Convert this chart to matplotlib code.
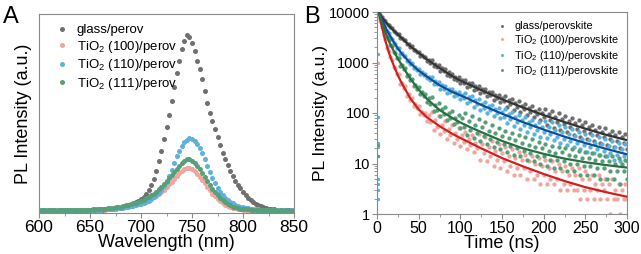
"""
PL spectra (A) and TRPL decays (B) for perovskite on glass / TiO2 facets
"""

import numpy as np
import matplotlib
matplotlib.use('Agg')
import matplotlib.pyplot as plt
from matplotlib.ticker import MultipleLocator, FixedLocator, FixedFormatter, LogLocator, NullFormatter

plt.rcParams['font.family'] = ['Liberation Sans', 'DejaVu Sans']
plt.rcParams['mathtext.fontset'] = 'custom'
plt.rcParams['mathtext.rm'] = 'Liberation Sans'
plt.rcParams['mathtext.it'] = 'Liberation Sans:italic'

# ---------------- Panel A: steady-state PL (normalised a.u.) ----------------
wavelength = np.arange(600, 850.1, 2.5)

pl_glass = [
    .014, .012, .015, .013, .014, .016, .013, .015, .014, .016,
    .013, .015, .016, .014, .015, .017, .014, .016, .015, .017,
    .016, .015, .018, .016, .018, .017, .019, .018, .021, .020,
    .023, .025, .026, .030, .033, .037, .042, .047, .053, .060,
    .068, .080, .095, .115, .14, .17, .21, .26, .31, .37,
    .43, .49, .56, .63, .70, .76, .82, .86, .89, .88,
    .85, .81, .76, .72, .67, .61, .55, .50, .46, .42,
    .38, .34, .30, .27, .24, .21, .185, .16, .14, .125,
    .105, .09, .075, .065, .055, .047, .040, .034, .029, .025,
    .022, .020, .018, .017, .016, .015, .015, .014, .014, .013,
    .013]
pl_100 = [
    .011, .013, .012, .014, .012, .013, .011, .014, .013, .012,
    .013, .012, .014, .013, .012, .014, .013, .015, .014, .013,
    .015, .014, .016, .015, .017, .018, .017, .019, .020, .022,
    .023, .025, .027, .029, .031, .034, .037, .040, .043, .047,
    .051, .055, .060, .066, .072, .079, .087, .096, .106, .117,
    .13, .143, .157, .171, .185, .198, .21, .218, .224, .225,
    .218, .208, .195, .18, .165, .148, .13, .113, .097, .083,
    .07, .059, .05, .042, .035, .03, .026, .023, .02, .018,
    .017, .016, .015, .014, .014, .013, .013, .012, .013, .012,
    .012, .011, .012, .013, .011, .012, .011, .012, .011, .012,
    .011]
pl_110 = [
    .013, .014, .012, .015, .014, .013, .015, .014, .016, .014,
    .015, .013, .016, .015, .014, .016, .015, .017, .016, .015,
    .017, .016, .018, .017, .016, .019, .018, .020, .019, .021,
    .022, .024, .025, .027, .029, .031, .034, .037, .040, .043,
    .046, .050, .055, .062, .070, .080, .090, .102, .115, .133,
    .155, .183, .215, .25, .285, .31, .335, .355, .365, .375,
    .370, .36, .345, .325, .30, .27, .235, .205, .175, .15,
    .125, .105, .09, .077, .065, .056, .048, .042, .036, .032,
    .028, .025, .023, .021, .020, .019, .018, .017, .016, .016,
    .015, .016, .014, .015, .013, .014, .013, .014, .012, .013,
    .013]
pl_111 = [
    .012, .014, .013, .012, .015, .013, .014, .012, .013, .015,
    .014, .013, .015, .014, .016, .014, .015, .017, .016, .015,
    .016, .018, .017, .019, .018, .020, .022, .023, .025, .026,
    .028, .030, .032, .035, .038, .041, .045, .048, .052, .057,
    .062, .067, .073, .080, .088, .097, .107, .118, .13, .145,
    .16, .175, .19, .205, .22, .235, .25, .26, .268, .27,
    .262, .25, .235, .218, .20, .18, .16, .14, .12, .103,
    .088, .075, .063, .053, .045, .038, .032, .028, .025, .022,
    .020, .019, .018, .017, .016, .016, .015, .015, .014, .015,
    .014, .013, .014, .013, .012, .013, .012, .013, .012, .012,
    .012]

labels_a = ['glass/perov', 'TiO$_2$ (100)/perov', 'TiO$_2$ (110)/perov', 'TiO$_2$ (111)/perov']
labels_b = ['glass/perovskite', 'TiO$_2$ (100)/perovskite', 'TiO$_2$ (110)/perovskite',
            'TiO$_2$ (111)/perovskite']

# ---------------- Panel B: TRPL decays ----------------
time = np.arange(2, 301, 2)

trpl_glass = [
    10000, 8600, 8000, 7000, 6620, 5700, 5460, 4940, 4810, 4150,
    4080, 3680, 3710, 3050, 3060, 2740, 2760, 2280, 2320, 2060,
    2100, 1760, 1800, 1620, 1640, 1370, 1410, 1270, 1290, 1080,
    1140, 1000, 1100, 840, 935, 820, 900, 685, 765, 670,
    745, 570, 635, 550, 600, 465, 520, 460, 510, 390,
    445, 390, 460, 320, 390, 340, 400, 280, 335, 295,
    350, 245, 295, 255, 305, 215, 260, 225, 265, 185,
    226, 198, 232, 163, 196, 170, 216, 132, 178, 150,
    192, 116, 156, 132, 170, 103, 139, 118, 151, 92,
    124, 105, 135, 82, 111, 94, 121, 74, 100, 85,
    120, 57, 94, 74, 109, 51, 84, 67, 99, 46,
    77, 60, 88, 42, 69, 53, 80, 37, 62, 48,
    72, 34, 57, 44, 66, 31, 52, 40, 59, 28,
    47, 36, 54, 25, 43, 33, 50, 23, 39, 31,
    45, 21, 36, 28, 42, 20, 33, 26, 39, 19]
trpl_100 = [
    9500, 6580, 5000, 3480, 2860, 1970, 1680, 1270, 1130, 830,
    780, 590, 600, 380, 400, 315, 335, 215, 233, 185,
    200, 135, 150, 124, 136, 94, 107, 90, 101, 70,
    90, 67, 105, 46, 72, 54, 86, 38, 59, 44,
    70, 31, 49, 37, 58, 26, 41, 31, 50, 22,
    36, 27, 43, 19, 30, 23, 37, 17, 26, 20,
    38, 12, 24, 16, 33, 11, 21, 14, 28, 9,
    18, 12, 24, 8, 16, 11, 21, 7, 14, 9,
    19, 6, 13, 8, 17, 6, 12, 8, 15, 5,
    11, 7, 14, 5, 10, 6, 13, 4, 9, 6,
    12, 4, 8, 5, 11, 4, 7, 5, 10, 3,
    7, 4, 9, 3, 6, 4, 8, 3, 6, 3,
    8, 2, 5, 3, 7, 2, 5, 3, 6, 2,
    4, 3, 6, 2, 4, 3, 5, 2, 4, 1,
    5, 2, 3, 2, 4, 1, 3, 2, 4, 2]
trpl_110 = [
    9880, 8160, 7290, 5920, 5200, 4180, 3850, 3210, 2980, 2450,
    2340, 1960, 1940, 1500, 1520, 1330, 1370, 1080, 1100, 945,
    970, 775, 810, 715, 745, 600, 640, 570, 600, 485,
    525, 450, 515, 370, 430, 370, 420, 305, 355, 305,
    350, 253, 297, 258, 300, 220, 260, 227, 263, 193,
    232, 195, 250, 155, 203, 171, 217, 134, 178, 149,
    190, 116, 153, 128, 163, 101, 135, 113, 144, 89,
    118, 100, 126, 78, 104, 85, 118, 62, 94, 75,
    104, 55, 83, 66, 92, 48, 74, 59, 82, 43,
    65, 52, 73, 38, 58, 46, 65, 34, 53, 42,
    71, 32, 52, 38, 65, 29, 47, 34, 59, 26,
    42, 31, 53, 23, 38, 28, 48, 21, 35, 25,
    43, 19, 31, 23, 39, 17, 29, 21, 36, 16,
    26, 19, 33, 15, 24, 18, 31, 14, 22, 16,
    28, 12, 21, 15, 26, 11, 19, 14, 24, 11]
trpl_111 = [
    9750, 7500, 6300, 4900, 4200, 3140, 2800, 2260, 2080, 1620,
    1540, 1240, 1250, 870, 905, 750, 770, 535, 560, 460,
    480, 340, 365, 305, 325, 235, 258, 219, 233, 167,
    194, 152, 207, 112, 147, 117, 161, 88, 118, 95,
    132, 73, 99, 79, 108, 60, 81, 66, 92, 51,
    79, 53, 99, 36, 68, 46, 87, 32, 59, 40,
    76, 28, 52, 35, 66, 24, 45, 31, 58, 21,
    40, 27, 51, 19, 35, 24, 45, 17, 32, 22,
    41, 15, 29, 20, 37, 14, 26, 18, 33, 12,
    23, 16, 30, 11, 21, 14, 27, 10, 20, 14,
    24, 9, 18, 12, 22, 8, 16, 12, 21, 8,
    17, 11, 20, 7, 15, 10, 19, 7, 14, 10,
    18, 6, 13, 9, 17, 6, 13, 9, 16, 6,
    12, 8, 15, 5, 11, 8, 14, 5, 11, 7,
    14, 5, 10, 7, 13, 4, 10, 7, 12, 5]

# instrument rise (first ns) seen at the left edge
rise_t_110 = [1.0, 1.4, 1.2, 1.6, 1.1, 1.5, 1.3, 1.2, 1.5]
rise_110 = [1500, 85, 26, 21, 14, 5, 4, 3, 2]
rise_t_100 = [1.3]
rise_100 = [1000]
rise_t_111 = [1.4, 1.2]
rise_111 = [23, 14]

# multi-exponential fits
fit_t = [3, 5, 10, 15, 20, 25, 30, 40, 50, 60, 75, 90, 100, 110, 125, 150, 175, 200, 225, 250, 275, 300]
fit_glass = [9500, 8300, 6400, 5200, 4300, 3600, 3000, 2100, 1550, 1150, 780, 540, 440, 370, 285, 187,
             129, 91, 66, 49, 37, 29]
fit_100 = [8500, 5800, 2700, 1450, 880, 560, 380, 195, 118, 82, 55, 39, 32, 26.5, 20, 12.8,
           8.8, 6.2, 4.5, 3.4, 2.7, 2.2]
fit_110 = [9300, 7800, 5000, 3500, 2550, 1900, 1480, 970, 690, 525, 355, 263, 224, 190, 145, 97,
           66, 47, 34, 25.4, 19.5, 15.2]
fit_111 = [9000, 7000, 4000, 2500, 1700, 1200, 870, 480, 290, 190, 115, 80, 65, 54, 42, 28,
           20, 15.5, 12.5, 10.6, 9.3, 8.3]

dot_colors = ['#6f6f6f', '#f0a69c', '#5cb1de', '#579f78']
fit_colors = ['#333333', '#d11f1f', '#0d4e9a', '#2b6e42']
spine_color = '#8a8a8a'

fig = plt.figure(figsize=(6.41, 2.54), dpi=100)
ax1 = fig.add_axes([39 / 641, 1 - 213 / 254, 255 / 641, 199 / 254])
ax2 = fig.add_axes([377 / 641, 1 - 214 / 254, 250 / 641, 202 / 254])

# ---- A ----
for y, c, lab in zip([pl_glass, pl_100, pl_110, pl_111], dot_colors, labels_a):
    ax1.plot(wavelength, y, 'o', ms=3.6, mec='none', mfc=c, label=lab)
ax1.set_xlim(600, 850)
ax1.set_ylim(0, 0.995)
ax1.set_yticks([])
ax1.xaxis.set_major_locator(MultipleLocator(50))
ax1.xaxis.set_minor_locator(MultipleLocator(25))
ax1.set_xlabel('Wavelength (nm)', fontsize=13, labelpad=-1)
ax1.set_ylabel('PL Intensity (a.u.)', fontsize=13, labelpad=5)
leg1 = ax1.legend(loc='upper left', bbox_to_anchor=(0.04, 0.975), frameon=False, fontsize=9.5,
                  handletextpad=0.5, labelspacing=0.18, handlelength=1.2, borderaxespad=0)

# ---- B ----
series = [trpl_glass, trpl_100, trpl_110, trpl_111]
for y, c, lab in zip(series, dot_colors, labels_b):
    ax2.plot(time, y, 'o', ms=3.1, mec='none', mfc=c, label=lab, zorder=2)
ax2.plot(rise_t_110, rise_110, 'o', ms=2.4, mec='none', mfc=dot_colors[2], zorder=2)
ax2.plot(rise_t_100, rise_100, 'o', ms=2.4, mec='none', mfc=dot_colors[1], zorder=2)
ax2.plot(rise_t_111, rise_111, 'o', ms=2.4, mec='none', mfc=dot_colors[3], zorder=2)
for f, c in zip([fit_glass, fit_100, fit_110, fit_111], fit_colors):
    ax2.plot(fit_t, f, '-', color=c, lw=1.6, zorder=3)

ax2.set_yscale('log')
ax2.set_xlim(0, 300)
ax2.set_ylim(1, 10000)
ax2.xaxis.set_major_locator(MultipleLocator(50))
ax2.xaxis.set_minor_locator(MultipleLocator(25))
ax2.yaxis.set_major_locator(FixedLocator([1, 10, 100, 1000, 10000]))
ax2.yaxis.set_major_formatter(FixedFormatter(['1', '10', '100', '1000', '10000']))
ax2.yaxis.set_minor_locator(LogLocator(base=10, subs=np.arange(2, 10)))
ax2.yaxis.set_minor_formatter(NullFormatter())
ax2.set_xlabel('Time (ns)', fontsize=13, labelpad=-1)
ax2.set_ylabel('PL Intensity (a.u.)', fontsize=12.5, labelpad=1)
leg2 = ax2.legend(loc='upper right', bbox_to_anchor=(0.985, 0.975), frameon=False, fontsize=7.8,
                  handletextpad=0.6, labelspacing=0.15, handlelength=1.0, borderaxespad=0,
                  markerscale=0.7)

for ax in (ax1, ax2):
    for s in ax.spines.values():
        s.set_color(spine_color)
        s.set_linewidth(0.8)
    ax.tick_params(which='both', direction='out', color=spine_color)
    ax.tick_params(which='major', length=3.5, width=0.8)
    ax.tick_params(which='minor', length=2, width=0.6)
ax1.tick_params(axis='x', labelsize=12.5, pad=1.5)
ax2.tick_params(axis='x', labelsize=11.5, pad=1.5)
ax2.tick_params(axis='y', labelsize=10.5, pad=1.5)

fig.text(3 / 641, 1 - 23 / 254, 'A', fontsize=17)
fig.text(304 / 641, 1 - 23 / 254, 'B', fontsize=17)

fig.savefig('out.png', dpi=100)
